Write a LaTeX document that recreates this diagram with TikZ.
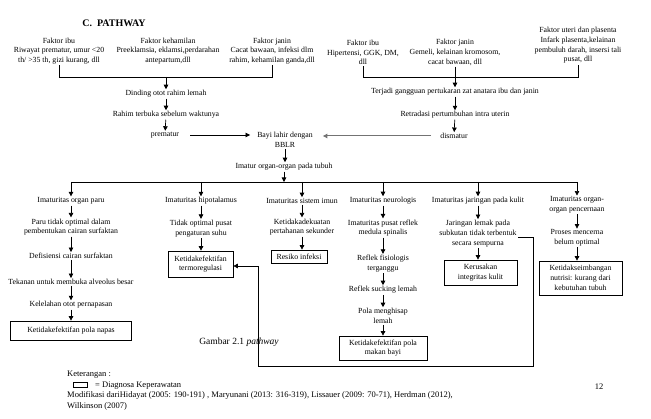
\documentclass[tikz,border=0pt]{standalone}
\usepackage{fontspec}
\setmainfont{Liberation Serif}
\usetikzlibrary{arrows.meta,calc}
\begin{document}
\begin{tikzpicture}[x=1pt,y=-1pt,
  txt/.style={align=center,inner sep=1pt,font=\fontsize{7.8}{9.7}\selectfont},
  dbox/.style={draw,line width=0.7pt,align=center,inner sep=1pt,font=\fontsize{7.8}{9.7}\selectfont},
  ar/.style={line width=0.7pt,-{Triangle[length=4.5pt,width=4.5pt]}},
  grar/.style={line width=1pt,draw=black!55,-{Triangle[length=4.5pt,width=4.5pt]},},
  ln/.style={line width=0.7pt},
  leg/.style={anchor=west,inner sep=0pt,font=\fontsize{8.5}{10}\selectfont}]
\useasboundingbox (0,0) rectangle (651,419);

% title
\node[font=\fontsize{10}{12}\selectfont\bfseries] (title) at (114,23) {C.\ \ PATHWAY};

% top left factors
\node[txt] (f1) at (59,51) {Faktor ibu\\Riwayat prematur, umur <20\\th/ >35 th, gizi kurang, dll};
\node[txt] (f2) at (168,51) {Faktor kehamilan\\Preeklamsia, eklamsi,perdarahan\\antepartum,dll};
\node[txt] (f3) at (272,51) {Faktor janin\\Cacat bawaan, infeksi dlm\\rahim, kehamilan ganda,dll};
\node[txt] (dinding) at (166,94) {Dinding otot rahim lemah};
\node[txt] (rahim) at (166,115) {Rahim terbuka sebelum waktunya};
\node[txt] (prematur) at (165,135) {prematur};
\node[txt] (bayi) at (285,140) {Bayi lahir dengan\\BBLR};

% top right factors
\node[txt] (f4) at (363,52.5) {Faktor ibu\\Hipertensi, GGK, DM,\\dll};
\node[txt] (f5) at (455,52.5) {Faktor janin\\Gemeli, kelainan kromosom,\\cacat bawaan, dll};
\node[txt] (f6) at (578,45.5) {Faktor uteri dan plasenta\\Infark plasenta,kelainan\\pembuluh darah, insersi tali\\pusat, dll};
\node[txt] (terjadi) at (455,92) {Terjadi gangguan pertukaran zat anatara ibu dan janin};
\node[txt] (retradasi) at (455,115) {Retradasi pertumbuhan intra uterin};
\node[txt] (dismatur) at (454,136) {dismatur};

\node[txt] (imatur) at (284,167) {Imatur organ-organ pada tubuh};

% connectors top
\coordinate (tbl) at (0,77);
\draw[ln] (f1.south) |- (f3.south |- tbl) -- (f3.south);
\draw[ar] (dinding |- tbl) -- (dinding);
\draw[ar] (dinding) -- (rahim);
\draw[ar] (rahim) -- (prematur);
\draw[ar,shorten <=10pt,shorten >=6pt] (prematur.east) -- (prematur.east -| bayi.west);

\draw[ln] (f4.south) |- (f6.south |- tbl) -- (f6.south);
\draw[ar] (f5.south) -- (terjadi);
\draw[ar] (terjadi) -- (retradasi);
\draw[ar] (retradasi) -- (dismatur);
\draw[grar,shorten <=8pt,shorten >=9pt] (dismatur.west) -- (dismatur.west -| bayi.east);

\draw[ar] (bayi) -- (bayi |- imatur.north);
\coordinate (bus) at (0,182);
\draw[ar] (imatur) -- (imatur |- bus);

% branch 1
\node[txt] (a1) at (71,201) {Imaturitas organ paru};
\node[txt] (a2) at (71,227) {Paru tidak optimal dalam\\pembentukan cairan surfaktan};
\node[txt] (a3) at (71,256) {Defisiensi cairan surfaktan};
\node[txt] (a4) at (71,282) {Tekanan untuk membuka alveolus besar};
\node[txt] (a5) at (71,305) {Kelelahan otot pernapasan};
\node[dbox,minimum width=121pt,minimum height=19pt] (d1) at (71,330.5) {Ketidakefektifan pola napas};

% branch 2
\node[txt] (b1) at (201,201) {Imaturitas hipotalamus};
\node[txt] (b2) at (201,228.5) {Tidak optimal pusat\\pengaturan suhu};
\node[dbox,minimum width=65pt,minimum height=26pt] (d2) at (200.5,264) {Ketidakefektifan\\termoregulasi};

% branch 3
\node[txt] (c1) at (302,201) {Imaturitas sistem imun};
\node[txt] (c2) at (302,227) {Ketidakadekuatan\\pertahanan sekunder};
\node[dbox,minimum width=56pt,minimum height=13pt] (d3) at (299,256.5) {Resiko infeksi};

% branch 4
\node[txt] (e1) at (383,201) {Imaturitas neurologis};
\node[txt] (e2) at (383,228) {Imaturitas pusat reflek\\medula spinalis};
\node[txt] (e3) at (383,263.5) {Reflek fisiologis\\terganggu};
\node[txt] (e4) at (383,290) {Reflek sucking lemah};
\node[txt] (e5) at (383,316) {Pola menghisap\\lemah};
\node[dbox,minimum width=88pt,minimum height=24pt] (d4) at (383,348) {Ketidakefektifan pola\\makan bayi};

% branch 5
\node[txt] (g1) at (478,201) {Imaturitas jaringan pada kulit};
\node[txt] (g2) at (478,233.5) {Jaringan lemak pada\\subkutan tidak terbentuk\\secara sempurna};
\node[dbox,minimum width=73pt,minimum height=25pt] (d5) at (480.5,272.5) {Kerusakan\\integritas kulit};

% branch 6
\node[txt] (h1) at (577,205) {Imaturitas organ-\\organ pencernaan};
\node[txt] (h2) at (577,238) {Proses mencerna\\belum optimal};
\node[dbox,minimum width=83pt,minimum height=34pt] (d6) at (580.5,278) {Ketidakseimbangan\\nutrisi: kurang dari\\kebutuhan tubuh};

% bus
\draw[ln] (a1 |- bus) -- (h1 |- bus);
\foreach \n in {a1,b1,c1,e1,g1,h1} \draw[ar] (\n |- bus) -- (\n);

% branch arrows
\draw[ar] (a1) -- (a2);
\draw[ar] (a2) -- (a3);
\draw[ar] (a3) -- (a4);
\draw[ar] (a4) -- (a5);
\draw[ar] (a5) -- (d1);
\draw[ar] (b1) -- (b2);
\draw[ar] (b2.south) -- (b2.south |- d2.north);
\draw[ar] (c1) -- (c2);
\draw[ar] (c2.south) -- (c2.south |- d3.north);
\draw[ar] (e1) -- (e2);
\draw[ar] (e2) -- (e3);
\draw[ar] (e3) -- (e4);
\draw[ar] (e4) -- (e5);
\draw[ar] (e5) -- (d4);
\draw[ar] (g1) -- (g2);
\draw[ar] (g2.south) -- (g2.south |- d5.north);
\draw[ar] (h1) -- (h2);
\draw[ar] (h2.south) -- (h2.south |- d6.north);

% feedback line
\coordinate (fb1) at (533,237);
\coordinate (fb2) at (533,366);
\coordinate (fb3) at (258,366);
\coordinate (fb4) at (258,266);
\draw[ln] (g2.east |- fb1) -- (fb1) -- (fb2) -- (fb3) -- (fb4);
\draw[ar] (fb4) -- (fb4 -| d2.east);

% caption
\node[font=\fontsize{9.5}{11}\selectfont] (cap) at (239,342) {Gambar 2.1 \textit{pathway}};

% legend
\node[leg] (ket) at (67,375) {Keterangan :};
\node[draw,line width=0.7pt,minimum width=14pt,minimum height=5pt,inner sep=0pt] (legbox) at (80,384.5) {};
\node[leg] (legtxt) at (95,385.5) {= Diagnosa Keperawatan};
\node[leg] (mod) at (67,395.5) {Modifikasi dariHidayat (2005: 190-191) , Maryunani (2013: 316-319), Lissauer (2009: 70-71), Herdman (2012),};
\node[leg] (wil) at (67,406.5) {Wilkinson (2007)};
\node[font=\fontsize{8.5}{10}\selectfont,inner sep=0pt] (pg) at (599,387) {12};
\end{tikzpicture}
\end{document}
